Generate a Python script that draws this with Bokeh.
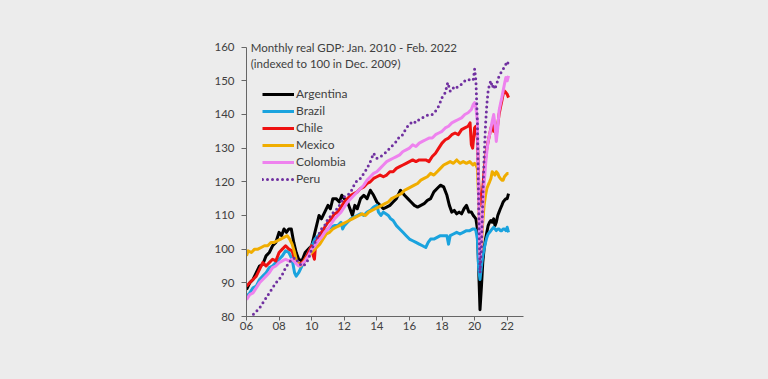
from bokeh.plotting import figure
from bokeh.models import (Range1d, Legend, LegendItem, Label, FixedTicker,
                          GlobalInlineStyleSheet)
from bokeh.embed import file_html
from bokeh.resources import INLINE

# ---------------- data ----------------
arg_x = [2006.0, 2006.2, 2006.4, 2006.6, 2006.8, 2007.0, 2007.2, 2007.4, 2007.6, 2007.8, 2008.0, 2008.15, 2008.3, 2008.45, 2008.6, 2008.75, 2008.9, 2009.05, 2009.2, 2009.4, 2009.6, 2009.8, 2010.0, 2010.15, 2010.3, 2010.45, 2010.6, 2010.8, 2011.0, 2011.15, 2011.3, 2011.5, 2011.7, 2011.85, 2012.0, 2012.2, 2012.35, 2012.5, 2012.65, 2012.8, 2013.0, 2013.2, 2013.4, 2013.6, 2013.8, 2014.0, 2014.2, 2014.4, 2014.6, 2014.8, 2015.0, 2015.2, 2015.45, 2015.7, 2015.9, 2016.1, 2016.3, 2016.5, 2016.7, 2016.9, 2017.1, 2017.3, 2017.5, 2017.7, 2017.9, 2018.1, 2018.3, 2018.45, 2018.6, 2018.75, 2018.9, 2019.05, 2019.2, 2019.35, 2019.5, 2019.65, 2019.8, 2019.92, 2020.0, 2020.08, 2020.17, 2020.25, 2020.33, 2020.42, 2020.5, 2020.58, 2020.67, 2020.75, 2020.83, 2020.92, 2021.0, 2021.08, 2021.17, 2021.25, 2021.33, 2021.42, 2021.5, 2021.58, 2021.67, 2021.75, 2021.83, 2021.92, 2022.0, 2022.08]
arg_y = [88, 90, 91, 93, 95, 95.5, 98, 99, 101, 102, 105, 104, 106, 105, 106, 106, 102, 99, 97, 96.5, 99, 100, 101, 104, 107, 110, 109, 111, 113, 112, 115, 115, 114, 116, 115, 114, 112, 110, 113, 112, 115, 116, 115, 117.5, 116, 114, 113, 112, 112.5, 113, 114, 115, 117.5, 116, 115, 114, 113, 112.5, 113, 113.5, 114.5, 115, 117, 118, 119, 118.5, 116, 113, 111, 111.5, 110.5, 111, 110.5, 112, 113, 111, 111, 110, 109.5, 109, 106, 94, 82, 89, 96, 100, 103, 105, 107, 108, 108.5, 108, 109, 107, 108, 110, 111, 112, 113, 114, 114.5, 115, 115, 116.5]

bra_x = [2006.0, 2006.2, 2006.4, 2006.6, 2006.8, 2007.0, 2007.2, 2007.4, 2007.6, 2007.8, 2008.0, 2008.2, 2008.4, 2008.6, 2008.8, 2008.95, 2009.05, 2009.2, 2009.4, 2009.6, 2009.8, 2010.0, 2010.2, 2010.4, 2010.6, 2010.8, 2011.0, 2011.2, 2011.4, 2011.6, 2011.8, 2011.9, 2012.0, 2012.2, 2012.4, 2012.6, 2012.8, 2013.0, 2013.2, 2013.4, 2013.6, 2013.8, 2014.0, 2014.1, 2014.25, 2014.4, 2014.55, 2014.7, 2014.85, 2015.0, 2015.2, 2015.4, 2015.6, 2015.8, 2016.0, 2016.2, 2016.4, 2016.6, 2016.8, 2017.0, 2017.15, 2017.3, 2017.5, 2017.7, 2017.9, 2018.1, 2018.3, 2018.4, 2018.5, 2018.7, 2018.9, 2019.1, 2019.3, 2019.5, 2019.7, 2019.9, 2020.0, 2020.08, 2020.17, 2020.25, 2020.33, 2020.42, 2020.5, 2020.58, 2020.67, 2020.75, 2020.83, 2020.92, 2021.0, 2021.08, 2021.17, 2021.25, 2021.33, 2021.42, 2021.5, 2021.58, 2021.67, 2021.75, 2021.83, 2021.92, 2022.0, 2022.08]
bra_y = [86, 87, 88.5, 89, 91, 92, 93, 94.5, 95, 96, 97, 98, 99.5, 99, 97, 93, 92, 93, 95, 97, 99, 101, 103, 104, 104.5, 105, 106, 106.5, 107, 107, 108, 106, 107, 108, 109, 109.5, 110, 110.5, 110, 111, 111.5, 112.5, 113, 111, 110, 111, 110.5, 110, 109, 108.5, 107, 106, 105, 104, 103, 102.5, 102, 101.5, 101, 100.5, 102, 103, 103, 103.5, 104, 104, 104, 101.5, 104, 104.5, 105, 104.5, 105, 105.5, 105.5, 106, 106, 105.5, 103, 94, 91, 95, 98, 100, 102, 103.5, 104.5, 105, 105.5, 106, 106.5, 106, 105.5, 106, 106, 105.5, 105.5, 106, 106, 105.5, 106.5, 105]

chl_x = [2006.0, 2006.2, 2006.4, 2006.6, 2006.8, 2007.0, 2007.2, 2007.4, 2007.6, 2007.8, 2008.0, 2008.2, 2008.4, 2008.6, 2008.8, 2008.95, 2009.1, 2009.3, 2009.5, 2009.7, 2009.9, 2010.0, 2010.1, 2010.17, 2010.25, 2010.4, 2010.6, 2010.8, 2011.0, 2011.2, 2011.4, 2011.6, 2011.8, 2012.0, 2012.2, 2012.4, 2012.6, 2012.8, 2013.0, 2013.2, 2013.4, 2013.6, 2013.8, 2014.0, 2014.2, 2014.4, 2014.6, 2014.8, 2015.0, 2015.2, 2015.4, 2015.6, 2015.8, 2016.0, 2016.2, 2016.4, 2016.6, 2016.8, 2017.0, 2017.2, 2017.4, 2017.6, 2017.8, 2018.0, 2018.2, 2018.4, 2018.6, 2018.8, 2019.0, 2019.2, 2019.4, 2019.6, 2019.72, 2019.8, 2019.88, 2019.96, 2020.0, 2020.08, 2020.17, 2020.25, 2020.33, 2020.42, 2020.5, 2020.58, 2020.67, 2020.75, 2020.83, 2020.92, 2021.0, 2021.08, 2021.17, 2021.25, 2021.33, 2021.42, 2021.5, 2021.58, 2021.67, 2021.75, 2021.83, 2021.92, 2022.0, 2022.08]
chl_y = [89, 90, 91, 92, 94, 96, 95, 96, 97, 96.5, 99, 100, 101, 100, 99.5, 97, 96, 95.5, 96.5, 98, 100, 101, 98, 97, 102, 103, 105, 106.5, 108, 109, 110.5, 111, 112.5, 114, 115, 116, 116.5, 117, 118, 118.5, 119.5, 120, 121, 121.5, 122, 121.5, 122, 123, 123, 124, 124.5, 125, 125.5, 126, 126.5, 126, 126.5, 126.5, 126.5, 126, 127.5, 128.5, 130, 131.5, 132.5, 133, 134, 134.5, 134, 135.5, 136, 136.5, 137.5, 131, 130, 134, 136, 136.5, 133, 120, 113, 114, 118, 123, 127, 130, 132, 134, 136, 137, 135, 135.5, 134, 137, 140, 142, 144, 146, 147, 146.5, 146, 145]

mex_x = [2006.0, 2006.1, 2006.3, 2006.5, 2006.7, 2006.9, 2007.1, 2007.3, 2007.5, 2007.7, 2007.9, 2008.1, 2008.3, 2008.5, 2008.65, 2008.8, 2008.95, 2009.1, 2009.3, 2009.5, 2009.7, 2009.9, 2010.1, 2010.3, 2010.5, 2010.7, 2010.9, 2011.1, 2011.3, 2011.5, 2011.7, 2011.9, 2012.1, 2012.3, 2012.5, 2012.7, 2012.9, 2013.1, 2013.3, 2013.5, 2013.7, 2013.9, 2014.1, 2014.3, 2014.5, 2014.7, 2014.9, 2015.1, 2015.3, 2015.5, 2015.7, 2015.9, 2016.1, 2016.3, 2016.5, 2016.7, 2016.9, 2017.1, 2017.3, 2017.5, 2017.7, 2017.9, 2018.1, 2018.3, 2018.5, 2018.7, 2018.9, 2019.1, 2019.3, 2019.5, 2019.7, 2019.9, 2020.0, 2020.08, 2020.17, 2020.25, 2020.33, 2020.42, 2020.5, 2020.58, 2020.67, 2020.75, 2020.83, 2020.92, 2021.0, 2021.08, 2021.17, 2021.25, 2021.33, 2021.42, 2021.5, 2021.58, 2021.67, 2021.75, 2021.83, 2021.92, 2022.0, 2022.08]
mex_y = [98, 99.5, 99, 100, 100, 100.5, 101, 101, 102, 102, 102.5, 103, 103.5, 104, 103, 101.5, 99, 96, 95, 96, 97.5, 98.5, 99.5, 100.5, 101.5, 103, 104.5, 105, 106, 106.5, 107, 107.5, 108, 108.5, 109, 109.5, 110, 110.5, 110, 111, 111.5, 112, 112.5, 113, 113.5, 114, 115, 115.5, 116, 116.5, 117.5, 118, 118.5, 119, 119.5, 120.5, 121, 121.5, 122.5, 122, 123, 124, 125, 125.5, 126, 125.5, 126.5, 125.5, 126, 125.5, 126, 125, 125.5, 125, 124, 115, 98.5, 101, 108, 113, 116, 118, 119, 120, 121, 123, 122.5, 122, 123, 122.5, 121.5, 121, 120.5, 120.5, 121.5, 122, 122.5, 122.5]

col_x = [2006.0, 2006.2, 2006.4, 2006.6, 2006.8, 2007.0, 2007.2, 2007.4, 2007.6, 2007.8, 2008.0, 2008.2, 2008.4, 2008.6, 2008.8, 2009.0, 2009.2, 2009.4, 2009.6, 2009.8, 2010.0, 2010.2, 2010.4, 2010.6, 2010.8, 2011.0, 2011.2, 2011.4, 2011.6, 2011.8, 2012.0, 2012.2, 2012.4, 2012.6, 2012.8, 2013.0, 2013.2, 2013.4, 2013.6, 2013.8, 2014.0, 2014.2, 2014.4, 2014.6, 2014.8, 2015.0, 2015.2, 2015.4, 2015.6, 2015.8, 2016.0, 2016.2, 2016.4, 2016.6, 2016.8, 2017.0, 2017.2, 2017.4, 2017.6, 2017.8, 2018.0, 2018.2, 2018.4, 2018.6, 2018.8, 2019.0, 2019.2, 2019.4, 2019.6, 2019.8, 2019.92, 2020.0, 2020.08, 2020.17, 2020.25, 2020.33, 2020.42, 2020.5, 2020.58, 2020.67, 2020.75, 2020.83, 2020.92, 2021.0, 2021.08, 2021.17, 2021.25, 2021.33, 2021.42, 2021.5, 2021.58, 2021.67, 2021.75, 2021.83, 2021.92, 2022.0, 2022.08]
col_y = [85, 86.5, 87, 88.5, 90, 91, 92, 93, 94.5, 95, 96, 96.5, 97, 96.5, 97, 96, 95, 95.5, 96.5, 98, 100, 101, 102.5, 103.5, 105, 106, 107.5, 109, 110, 111, 112.5, 114, 115, 116, 117, 118, 119, 120.5, 121.5, 122.5, 123, 124, 125, 126, 126.5, 127, 127.5, 128, 129, 129.5, 130, 131, 130.5, 131.5, 132, 132.5, 133, 133, 134, 134.5, 135, 136, 136.5, 137.5, 138, 138.5, 139, 140, 140.5, 141.5, 143, 143.5, 142, 138, 116, 97, 103, 112, 119, 125, 129, 132, 134, 136, 138, 140, 137, 132, 136, 141, 143, 145, 147, 149, 151, 150, 151.5]

per_x = [2006.0, 2006.2, 2006.4, 2006.6, 2006.8, 2007.0, 2007.2, 2007.4, 2007.6, 2007.8, 2008.0, 2008.2, 2008.4, 2008.6, 2008.8, 2009.0, 2009.2, 2009.4, 2009.6, 2009.8, 2010.0, 2010.2, 2010.4, 2010.6, 2010.8, 2011.0, 2011.2, 2011.4, 2011.6, 2011.8, 2012.0, 2012.2, 2012.4, 2012.6, 2012.8, 2013.0, 2013.2, 2013.4, 2013.6, 2013.8, 2014.0, 2014.2, 2014.4, 2014.6, 2014.8, 2015.0, 2015.2, 2015.4, 2015.6, 2015.8, 2016.0, 2016.2, 2016.4, 2016.6, 2016.8, 2017.0, 2017.2, 2017.4, 2017.6, 2017.8, 2018.0, 2018.2, 2018.35, 2018.5, 2018.65, 2018.8, 2019.0, 2019.2, 2019.4, 2019.6, 2019.8, 2019.92, 2020.0, 2020.08, 2020.17, 2020.25, 2020.33, 2020.42, 2020.5, 2020.58, 2020.67, 2020.75, 2020.83, 2020.92, 2021.0, 2021.08, 2021.17, 2021.25, 2021.33, 2021.42, 2021.5, 2021.58, 2021.67, 2021.75, 2021.83, 2021.92, 2022.0, 2022.08]
per_y = [78.5, 79.5, 80.5, 81.5, 82.5, 84, 85.5, 87, 88.5, 90, 91, 92.5, 94.5, 96, 97, 97.5, 96, 95, 95.5, 97, 100, 102, 104, 106, 107, 109, 110, 111.5, 112, 114, 115.5, 116, 117, 119, 120.5, 121, 122.5, 124, 126, 128.5, 127, 127.5, 128, 129, 130, 131, 132, 133.5, 134, 136, 137, 138, 137.5, 138.5, 139, 139.5, 140, 140, 141, 142.5, 145, 146.5, 149.5, 147, 148, 147.5, 148.5, 149, 150, 150.5, 150, 150.5, 153.5, 150, 138, 112, 93, 100, 115, 127, 137, 143, 147, 149, 150, 148, 149, 147.5, 149, 150, 151.5, 152, 153, 153.5, 154, 155, 154.5, 156]

countries = ["Argentina", "Brazil", "Chile", "Mexico", "Colombia", "Peru"]
colors = ["#000000", "#1aa3de", "#ee1111", "#f0ad00", "#ee82ee", "#7030a0"]
series_x = [arg_x, bra_x, chl_x, mex_x, col_x, per_x]
series_y = [arg_y, bra_y, chl_y, mex_y, col_y, per_y]

y_ticks = [80, 90, 100, 110, 120, 130, 140, 150, 160]
x_ticks = [2006, 2008, 2010, 2012, 2014, 2016, 2018, 2020, 2022]
x_tick_labels = ["06", "08", "10", "12", "14", "16", "18", "20", "22"]

title_1 = "Monthly real GDP: Jan. 2010  - Feb. 2022"
title_2 = "(indexed to 100 in Dec. 2009)"

BG = "#ececec"
TXT = "#404040"
FONT = "Lato"

p = figure(width=752, height=363, output_backend="svg", toolbar_location=None,
           x_range=Range1d(2006, 2023), y_range=Range1d(80, 162.86),
           min_border_left=246, min_border_right=229,
           min_border_top=37, min_border_bottom=47)
p.background_fill_color = BG
p.border_fill_color = BG
p.outline_line_color = None
p.grid.visible = False
p.stylesheets = [GlobalInlineStyleSheet(css="html, body {background: #ececec;}")]

for ax in (p.xaxis[0], p.yaxis[0]):
    ax.axis_line_color = "#666666"
    ax.major_tick_line_color = "#666666"
    ax.minor_tick_line_color = None
    ax.major_tick_in = 0
    ax.major_label_text_font = FONT
    ax.major_label_text_font_size = "11.5px"
    ax.major_label_text_color = TXT

p.yaxis.bounds = (80, 160)
p.yaxis.ticker = FixedTicker(ticks=y_ticks)
p.xaxis.ticker = FixedTicker(ticks=x_ticks)
p.xaxis.major_label_overrides = {t: l for t, l in zip(x_ticks, x_tick_labels)}
p.yaxis.major_tick_out = 5
p.xaxis.major_tick_out = 4
p.yaxis.major_label_standoff = 7
p.xaxis.major_label_standoff = 1

items = []
for name, col, xs, ys in zip(countries, colors, series_x, series_y):
    if name == "Peru":
        r = p.line(xs, ys, line_color=col, line_width=3, line_dash="0 5",
                   line_cap="round")
    else:
        r = p.line(xs, ys, line_color=col, line_width=3, line_join="round")
    items.append(LegendItem(label=name, renderers=[r]))

legend = Legend(items=items, location=(16, 130), orientation="vertical",
                glyph_width=32, glyph_height=14, label_height=14, spacing=2,
                padding=0, margin=0, label_standoff=2,
                border_line_color=None, background_fill_alpha=0,
                label_text_font=FONT, label_text_font_size="12px",
                label_text_color=TXT)
p.add_layout(legend)

p.add_layout(Label(x=2006.26, y=160, text=title_1, text_baseline="middle",
                   text_font=FONT, text_font_size="11.5px", text_color=TXT))
p.add_layout(Label(x=2006.26, y=155.1, text=title_2, text_baseline="middle",
                   text_font=FONT, text_font_size="11.5px", text_color=TXT))

open("out.html", "w").write(file_html(p, INLINE))
